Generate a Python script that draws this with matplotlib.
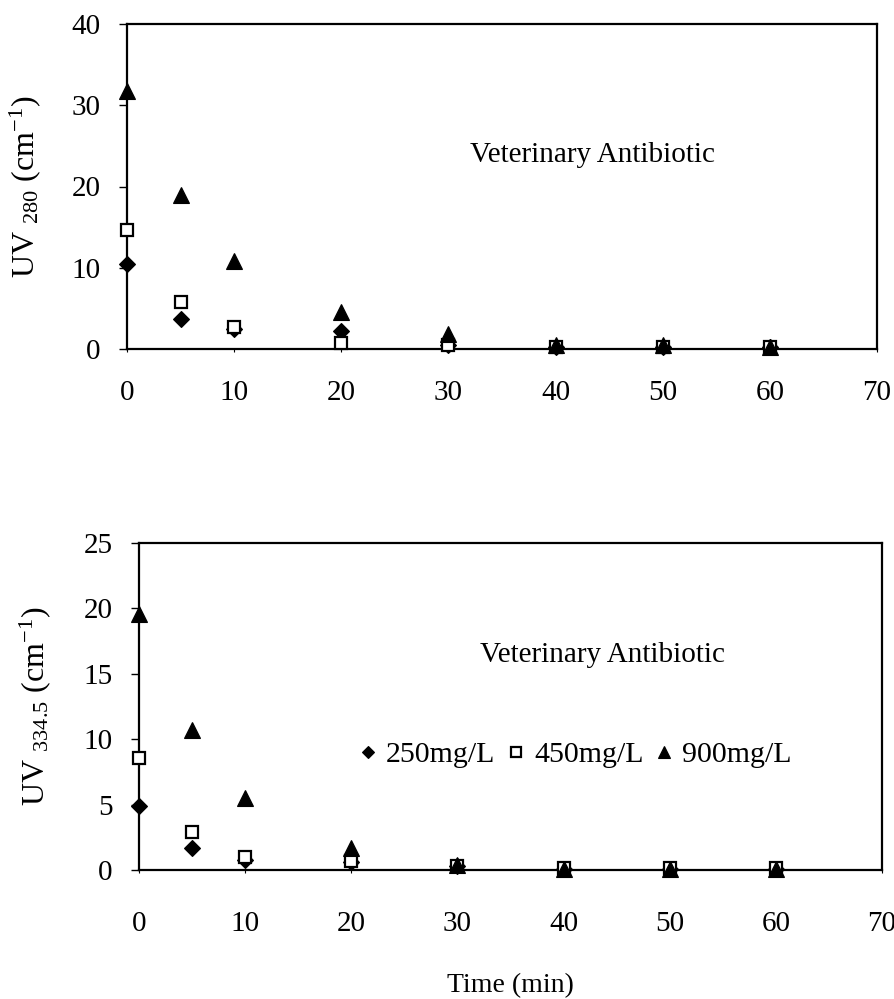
import matplotlib
matplotlib.use("Agg")
import matplotlib.pyplot as plt

# Sampling times (min)
time_min = [0, 5, 10, 20, 30, 40, 50, 60]

# UV absorbance at 280 nm (cm^-1) for three initial concentrations
uv280_250 = [10.5, 3.7, 2.5, 2.2, 0.5, 0.2, 0.2, 0.2]
uv280_450 = [14.6, 5.8, 2.7, 0.7, 0.5, 0.3, 0.3, 0.3]
uv280_900 = [31.8, 19.0, 10.8, 4.5, 1.8, 0.5, 0.5, 0.3]

# UV absorbance at 334.5 nm (cm^-1)
uv334_250 = [4.9, 1.7, 0.8, 0.6, 0.3, 0.1, 0.1, 0.1]
uv334_450 = [8.6, 2.9, 1.0, 0.7, 0.3, 0.15, 0.15, 0.15]
uv334_900 = [19.6, 10.7, 5.5, 1.7, 0.4, 0.1, 0.1, 0.1]

series_labels = ["250mg/L", "450mg/L", "900mg/L"]
x_ticks = [0, 10, 20, 30, 40, 50, 60, 70]
y_ticks_280 = [0, 10, 20, 30, 40]
y_ticks_334 = [0, 5, 10, 15, 20, 25]
panel_note = "Veterinary Antibiotic"

plt.rcParams["font.family"] = ["Liberation Serif", "DejaVu Serif"]
plt.rcParams["mathtext.fontset"] = "custom"
plt.rcParams["mathtext.rm"] = "Liberation Serif"
plt.rcParams["mathtext.it"] = "Liberation Serif:italic"
plt.rcParams["mathtext.bf"] = "Liberation Serif:bold"

fig = plt.figure(figsize=(8.95, 9.99), dpi=100)
ax1 = fig.add_axes([127 / 895, 1 - 349 / 999, 750 / 895, 325 / 999])
ax2 = fig.add_axes([139 / 895, 1 - 870 / 999, 743 / 895, 327 / 999])

styles = [
    dict(marker="D", markersize=8, markerfacecolor="black", markeredgecolor="black", markeredgewidth=0.8),
    dict(marker="s", markersize=8.5, markerfacecolor="white", markeredgecolor="black", markeredgewidth=1.6),
    dict(marker="^", markersize=11, markerfacecolor="black", markeredgecolor="black", markeredgewidth=0.8),
]


def style_axes(ax, yticks, ymax, xpad):
    ax.set_xlim(0, 70)
    ax.set_ylim(0, ymax)
    ax.set_xticks(x_ticks)
    ax.set_yticks(yticks)
    for sp in ax.spines.values():
        sp.set_linewidth(1.6)
    ax.tick_params(axis="y", direction="out", length=6, width=1, pad=13, labelsize=21)
    ax.tick_params(axis="x", direction="out", length=2, width=0.8, pad=xpad, labelsize=21)


# Top panel: 280 nm
for vals, lab, st in zip([uv280_250, uv280_450, uv280_900], series_labels, styles):
    ax1.plot(time_min, vals, linestyle="none", label=lab, clip_on=False, zorder=3, **st)
style_axes(ax1, y_ticks_280, 40, 20.5)
ax1.set_ylabel(r"UV $_{\mathrm{280}}$ (cm$^{\mathrm{-1}}$)", fontsize=23)
ax1.yaxis.set_label_coords(-0.112, 0.5)
ax1.text(0.457, 0.597, panel_note, transform=ax1.transAxes, fontsize=21,
         ha="left", va="center")

# Bottom panel: 334.5 nm
for vals, lab, st in zip([uv334_250, uv334_450, uv334_900], series_labels, styles):
    ax2.plot(time_min, vals, linestyle="none", label=lab, clip_on=False, zorder=3, **st)
style_axes(ax2, y_ticks_334, 25, 27.5)
ax2.set_ylabel(r"UV $_{\mathrm{334.5}}$ (cm$^{\mathrm{-1}}$)", fontsize=23)
ax2.yaxis.set_label_coords(-0.116, 0.5)
ax2.text(0.459, 0.657, panel_note, transform=ax2.transAxes, fontsize=21,
         ha="left", va="center")
ax2.set_xlabel("Time (min)", fontsize=20)
ax2.xaxis.set_label_coords(0.5, -0.315)

ax2.legend(loc="center left", bbox_to_anchor=(0.296, 0.352), ncol=3, frameon=False,
           fontsize=21.5, handlelength=0.6, handletextpad=0.3, columnspacing=0.4,
           borderpad=0, borderaxespad=0, markerscale=0.8)

fig.savefig("out.png", dpi=100)
